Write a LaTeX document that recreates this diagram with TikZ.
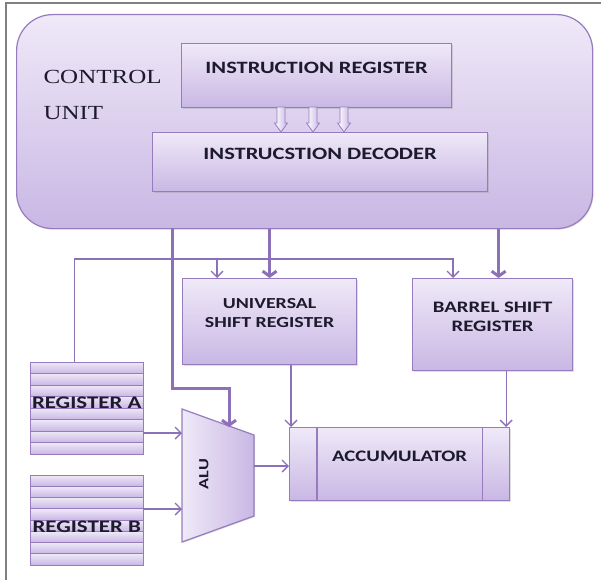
\documentclass[tikz,border=0pt]{standalone}
\usepackage{fontspec}
\newfontfamily\boxfont[FakeStretch=1.3]{Carlito}
\newfontfamily\cufont[FakeStretch=1.25]{Liberation Serif}
\usetikzlibrary{arrows.meta,positioning,calc,shadows}

\definecolor{lavtop}{RGB}{239,233,248}
\definecolor{lavbot}{RGB}{201,183,228}
\definecolor{lavline}{RGB}{150,124,190}
\definecolor{wirecol}{RGB}{140,112,184}
\definecolor{ink}{RGB}{28,26,44}

\tikzset{
  unitbox/.style={draw=lavline, line width=1.2pt, top color=lavtop, bottom color=lavbot,
    anchor=north west, inner sep=0pt,
    drop shadow={shadow xshift=1pt, shadow yshift=-1pt, opacity=0.25}},
  lbl/.style={font=\boxfont\bfseries\fontsize{#1}{19}\selectfont, text=ink, align=center},
  lbl/.default=16,
  wire/.style={draw=wirecol, line width=1.4pt, -{Straight Barb[length=6pt,width=12pt]}},
  bus/.style={draw=wirecol, line width=3pt, -{Straight Barb[length=5pt,width=14pt]}},
  stripe/.style={draw=lavline, line width=1pt, top color=lavtop, bottom color=lavbot}
}

\begin{document}
\begin{tikzpicture}[x=1pt,y=-1pt]
\useasboundingbox (0,0) rectangle (601,580);
\draw[gray, line width=2pt] (601,3) -- (6,3) -- (6,580);

% control unit
\node[unitbox, rounded corners=36pt, minimum width=576pt, minimum height=214pt] (cu) at (16,14) {};
\node[anchor=west, font=\cufont\fontsize{20}{36}\selectfont, align=left, text=ink] (cutext) at (40,95) {CONTROL\\UNIT};
\node[unitbox, minimum width=270pt, minimum height=64pt,
  label={[lbl=17.3,yshift=8pt]center:INSTRUCTION REGISTER}] (ir) at (181,43) {};
\node[unitbox, minimum width=335pt, minimum height=59pt,
  label={[lbl=17.3,yshift=8pt]center:INSTRUCSTION DECODER}] (dec) at (152,132) {};

% hollow arrows from register to decoder
\foreach \x in {281,313,344}
  \draw[lavline, line width=0.8pt, left color=white, right color=lavbot]
    ({\x-4},107) -- ({\x-4},123) -- ({\x-6.5},123) -- (\x,132) -- ({\x+6.5},123) -- ({\x+4},123) -- ({\x+4},107) -- cycle;

% shift registers and accumulator
\node[unitbox, minimum width=174pt, minimum height=86pt,
  label={[lbl=15.3,yshift=9pt]center:{UNIVERSAL\\SHIFT REGISTER}}] (usr) at (182,278) {};
\node[unitbox, minimum width=160pt, minimum height=92pt,
  label={[lbl,yshift=8pt]center:{BARREL SHIFT\\REGISTER}}] (bsr) at (412,278) {};
\node[unitbox, minimum width=220pt, minimum height=73pt,
  label={[lbl,yshift=7.5pt]center:ACCUMULATOR}] (acc) at (289,427) {};
\draw[lavline, line width=1.2pt] ([xshift=28pt]acc.north west) -- ([xshift=28pt]acc.south west);
\draw[lavline, line width=1.2pt] ([xshift=-28pt]acc.north east) -- ([xshift=-28pt]acc.south east);

% register files
\foreach \i in {0,...,7}
  \draw[stripe] (30,{362+\i*11.5}) rectangle ++(113,11.5);
\foreach \i in {0,...,7}
  \draw[stripe] (30,{475+\i*11.25}) rectangle ++(113,11.25);
\node[anchor=north west, minimum width=113pt, minimum height=92pt, inner sep=0pt,
  label={[lbl=17.6,yshift=5pt]center:REGISTER A}] (rega) at (30,362) {};
\node[anchor=north west, minimum width=113pt, minimum height=90pt, inner sep=0pt,
  label={[lbl=17.6,yshift=-7pt]center:REGISTER B}] (regb) at (30,475) {};

% ALU
\draw[draw=lavline, line width=1.2pt, left color=lavtop, right color=lavbot,
  drop shadow={shadow xshift=1pt, shadow yshift=-1pt, opacity=0.25}]
  (182,409) -- (254,435) -- (254,516) -- (182,542) -- cycle;
\node[lbl=14, rotate=90] (alu) at (204,474) {ALU};
\coordinate (alu-in1) at (182,433);
\coordinate (alu-in2) at (182,509);
\coordinate (alu-out) at (254,466);
\coordinate (alu-ctl) at (229,427);
\coordinate (cu-alu) at (172,228);

% control buses
\draw[bus] (cu-alu) |- (229,388) -- (alu-ctl);
\draw[bus] (cu.south -| usr.north) -- (usr.north);
\draw[bus] ([xshift=6pt]bsr.north |- cu.south) -- ([xshift=6pt]bsr.north);

% data paths
\draw[wire] ([xshift=-12.5pt]rega.north) |- ($(bsr.north west)+(41,-19)$) -- ++(0,19);
\draw[wire] ([xshift=35pt]usr.north west) ++(0,-19) -- ++(0,19);
\draw[wire] (rega.east |- alu-in1) -- (alu-in1);
\draw[wire] (regb.east |- alu-in2) -- (alu-in2);
\draw[wire] (alu-out) -- (acc.west |- alu-out);
\draw[wire] ([xshift=2pt]acc.north west |- usr.south) -- ([xshift=2pt]acc.north west);
\draw[wire] ([xshift=-4pt]acc.north east |- bsr.south) -- ([xshift=-4pt]acc.north east);
\end{tikzpicture}
\end{document}
